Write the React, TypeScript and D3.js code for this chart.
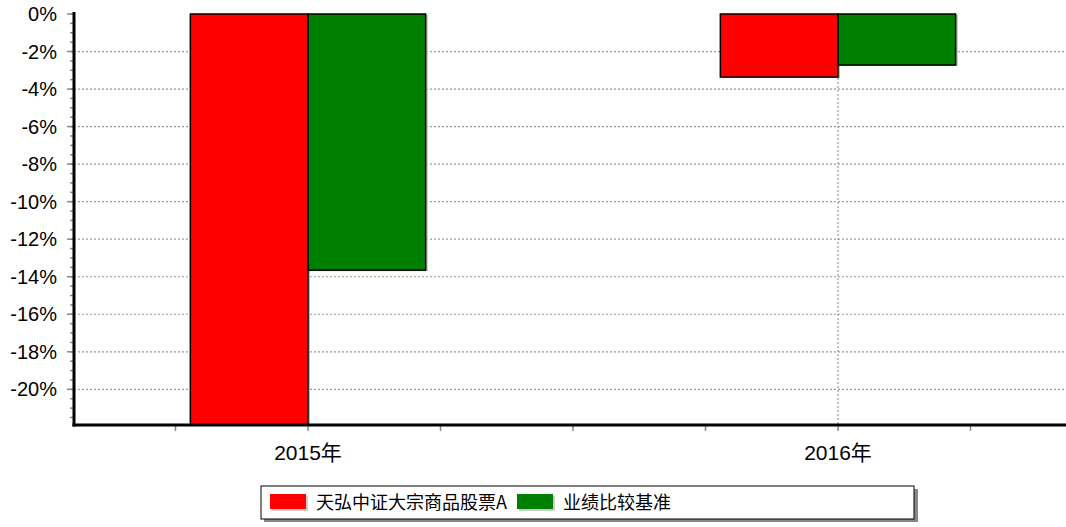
import React from "react";
import * as d3 from "d3";

const categories = ["2015年", "2016年"];
const seriesNames = ["天弘中证大宗商品股票A", "业绩比较基准"];
const fundValues = [-23.5, -3.36];
const benchValues = [-13.65, -2.72];
const yTicks = [0, -2, -4, -6, -8, -10, -12, -14, -16, -18, -20];
const colors = ["#ff0000", "#008000"];

const W = 1066;
const H = 527;
const left = 74;
const right = 1066;
const top = 14;
const bottom = 425;

export default function App() {
  const y = d3.scaleLinear().domain([-21.9, 0]).range([bottom, top]);
  const x = d3.scaleLinear().domain([0, 1]).range([308, 838]);
  const barW = 0.222;
  const minorY = d3.range(0, -21.9, -0.5);
  const xTicks = d3.range(-0.25, 1.26, 0.25);
  const font = "'Liberation Sans', Arial, 'Noto Sans CJK SC', sans-serif";
  const series = [fundValues, benchValues];

  return (
    <svg width={W} height={H} style={{ position: "absolute", left: 0, top: 0, background: "#fff" }} fontFamily={font}>
      <defs>
        <clipPath id="plot">
          <rect x={left} y={top - 1} width={right - left} height={bottom - top + 1} />
        </clipPath>
      </defs>
      {/* horizontal grid */}
      {yTicks.filter((t) => t !== 0).map((t) => (
        <line key={t} x1={left} x2={right} y1={y(t)} y2={y(t)} stroke="#999" strokeWidth={1.2} strokeDasharray="2,2" />
      ))}
      {/* vertical grid at categories */}
      {categories.map((c, i) => (
        <line key={c} x1={x(i)} x2={x(i)} y1={top} y2={bottom} stroke="#999" strokeWidth={1.2} strokeDasharray="2,2" />
      ))}
      {/* bars */}
      <g clipPath="url(#plot)">
        {categories.map((c, i) =>
          series.map((vals, s) => {
            const x0 = x(i + (s === 0 ? -barW : 0));
            const x1 = x(i + (s === 0 ? 0 : barW));
            const y0 = y(0);
            const y1 = y(vals[i]);
            return (
              <g key={c + s}>
                <rect x={x0 + 2} y={y0 + 1} width={x1 - x0} height={y1 - y0} fill="#bbb" />
                <rect x={x0} y={y0} width={x1 - x0} height={y1 - y0} fill={colors[s]} stroke="#000" strokeWidth={1.5} />
              </g>
            );
          })
        )}
      </g>
      {/* y axis minor ticks */}
      {minorY.map((t) => (
        <line key={t} x1={left - 4} x2={left} y1={y(t)} y2={y(t)} stroke="#888" strokeWidth={1.5} />
      ))}
      {yTicks.map((t) => (
        <g key={t}>
          <line x1={left - 7} x2={left} y1={y(t)} y2={y(t)} stroke="#888" strokeWidth={1.5} />
          <text x={57} y={y(t) + 7} textAnchor="end" fontSize={20} fill="#000">
            {t}%
          </text>
        </g>
      ))}
      {/* x ticks */}
      {xTicks.map((t) => (
        <line key={t} x1={x(t)} x2={x(t)} y1={bottom} y2={bottom + 6} stroke="#888" strokeWidth={1.5} />
      ))}
      {categories.map((c, i) => (
        <text key={c} x={x(i)} y={460} textAnchor="middle" fontSize={21} fill="#000">
          {c}
        </text>
      ))}
      {/* axes */}
      <line x1={left} x2={left} y1={top - 2} y2={bottom + 1.5} stroke="#000" strokeWidth={3} />
      <line x1={left - 1.5} x2={right} y1={bottom} y2={bottom} stroke="#000" strokeWidth={3} />
      {/* legend */}
      <g>
        <rect x={264} y={489} width={654} height={33} fill="#888" />
        <rect x={261} y={486} width={653} height={33} fill="#fff" stroke="#000" strokeWidth={1} />
        {seriesNames.map((n, i) => {
          const sx = i === 0 ? 270 : 517;
          return (
            <g key={n}>
              <rect x={sx + 2} y={496} width={36} height={15} fill="#ccc" />
              <rect x={sx} y={494} width={36} height={15} fill={colors[i]} />
              <text x={sx + 46} y={509} fontSize={18} fill="#000" fontFamily="'Noto Sans CJK SC', 'Liberation Sans', sans-serif">
                {n}
              </text>
            </g>
          );
        })}
      </g>
    </svg>
  );
}
